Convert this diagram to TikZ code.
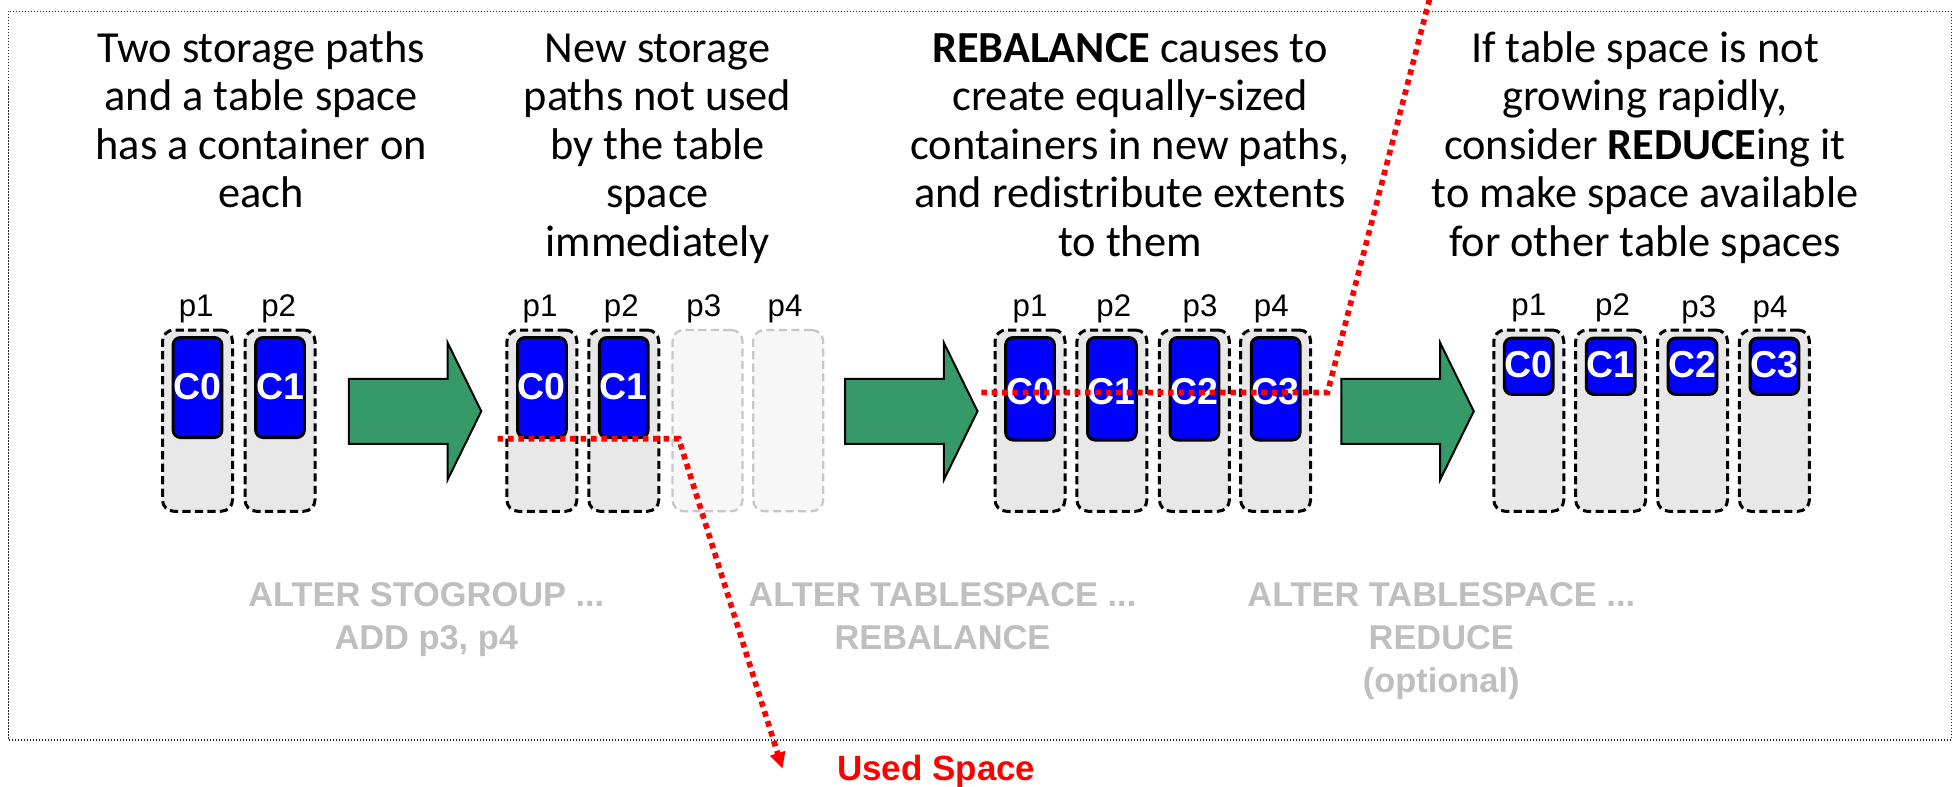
\documentclass[tikz,border=0pt]{standalone}
\usepackage{fontspec}
\setmainfont{Carlito}
\newfontfamily\arialf{Liberation Sans}
\usetikzlibrary{arrows.meta}
\definecolor{boxgray}{HTML}{E8E8E8}
\definecolor{arrgreen}{HTML}{359A68}
\definecolor{cmdgray}{HTML}{BFBFBF}
\definecolor{blueC}{HTML}{0000FF}
\begin{document}
\begin{tikzpicture}[x=1pt,y=-1pt,
  cont/.style={draw=black, line width=2.4pt, dash pattern=on 6.5pt off 3.5pt, rounded corners=9pt, fill=boxgray, minimum width=56pt, minimum height=145pt, inner sep=0pt},
  ghost/.style={cont, draw=black!22, line width=1.8pt, fill=black!3},
  cbox/.style={draw=black, line width=2.4pt, rounded corners=6pt, fill=blueC, minimum width=39pt, inner sep=0pt},
  clab/.style={text=white, font=\arialf\bfseries\fontsize{30}{30}\selectfont, inner sep=0pt},
  plab/.style={font=\arialf\fontsize{25}{25}\selectfont, anchor=base, inner sep=0pt},
  desc/.style={font=\fontsize{35.5}{38.7}\selectfont, anchor=base, inner sep=0pt},
  cmd/.style={text=cmdgray, font=\arialf\bfseries\fontsize{27.5}{34.5}\selectfont, anchor=base, inner sep=0pt},
  usedline/.style={draw=red, line width=4.5pt, dash pattern=on 4.5pt off 3.8pt},
  blockarr/.pic={\draw[fill=arrgreen, draw=black, line width=1.6pt] (0,-26) -- (79,-26) -- (79,-55) -- (106,0) -- (79,55) -- (79,26) -- (0,26) -- cycle;}
]
\useasboundingbox (0,0) rectangle (1567.2,628.8);
\fill[white] (0,0) rectangle (1567.2,628.8);
% frame
\draw[black!85, line width=1pt, dash pattern=on 1pt off 1.4pt] (7,9) rectangle (1561,592);

% descriptions
\node[desc] (d1) at (209,50) {\begin{tabular}[t]{@{}c@{}}Two storage paths\\and a table space\\has a container on\\each\end{tabular}};
\node[desc] (d2) at (526,50) {\begin{tabular}[t]{@{}c@{}}New storage\\paths not used\\by the table\\space\\immediately\end{tabular}};
\node[desc] (d3) at (904,50) {\begin{tabular}[t]{@{}c@{}}\textbf{REBALANCE} causes to\\create equally-sized\\containers in new paths,\\and redistribute extents\\to them\end{tabular}};
\node[desc] (d4) at (1316,50) {\begin{tabular}[t]{@{}c@{}}If table space is not\\growing rapidly,\\consider \textbf{REDUCE}ing it\\to make space available\\for other table spaces\end{tabular}};

% group 1
\node[cont] (a1) at (158,336.5) {};
\node[cont] (a2) at (224,336.5) {};
\node[cbox, minimum height=80pt] (ab1) at (158,310) {};
\node[cbox, minimum height=80pt] (ab2) at (224,310) {};
\node[clab] (ac1) at (158,309) {C0};
\node[clab] (ac2) at (224,309) {C1};
\node[plab] (ap1) at (157,253) {p1};
\node[plab] (ap2) at (223,253) {p2};

% group 2
\node[cont] (b1) at (433.5,336.5) {};
\node[cont] (b2) at (499,336.5) {};
\node[ghost] (b3) at (566,336.5) {};
\node[ghost] (b4) at (630.5,336.5) {};
\node[cbox, minimum height=80pt] (bb1) at (433.5,310) {};
\node[cbox, minimum height=80pt] (bb2) at (499,310) {};
\node[clab] (bc1) at (433.5,309) {C0};
\node[clab] (bc2) at (499,309) {C1};
\node[plab] (bp1) at (432,253) {p1};
\node[plab] (bp2) at (497,253) {p2};
\node[plab] (bp3) at (563,253) {p3};
\node[plab] (bp4) at (628,253) {p4};

% group 3
\node[cont] (c1) at (824,336.5) {};
\node[cont] (c2) at (889.5,336.5) {};
\node[cont] (c3) at (955.5,336.5) {};
\node[cont] (c4) at (1020.5,336.5) {};
\node[cbox, minimum height=82pt] (cb1) at (824,311) {};
\node[cbox, minimum height=82pt] (cb2) at (889.5,311) {};
\node[cbox, minimum height=82pt] (cb3) at (955.5,311) {};
\node[cbox, minimum height=82pt] (cb4) at (1020.5,311) {};
\node[clab] (cc1) at (824,313) {C0};
\node[clab] (cc2) at (889.5,313) {C1};
\node[clab] (cc3) at (955.5,313) {C2};
\node[clab] (cc4) at (1020.5,313) {C3};
\node[plab] (cp1) at (824,253) {p1};
\node[plab] (cp2) at (891,253) {p2};
\node[plab] (cp3) at (960,253) {p3};
\node[plab] (cp4) at (1017,253) {p4};

% group 4
\node[cont] (e1) at (1223,336.5) {};
\node[cont] (e2) at (1288.5,336.5) {};
\node[cont] (e3) at (1354,336.5) {};
\node[cont] (e4) at (1419.5,336.5) {};
\node[cbox, minimum height=45pt] (eb1) at (1223,293) {};
\node[cbox, minimum height=45pt] (eb2) at (1288.5,293) {};
\node[cbox, minimum height=45pt] (eb3) at (1354,293) {};
\node[cbox, minimum height=45pt] (eb4) at (1419.5,293) {};
\node[clab] (ec1) at (1223,292) {C0};
\node[clab] (ec2) at (1288.5,292) {C1};
\node[clab] (ec3) at (1354,292) {C2};
\node[clab] (ec4) at (1419.5,292) {C3};
\node[plab] (ep1) at (1223,252) {p1};
\node[plab] (ep2) at (1290,252) {p2};
\node[plab] (ep3) at (1359,254) {p3};
\node[plab] (ep4) at (1416,254) {p4};

% green arrows
\pic at (279,329) {blockarr};
\pic at (676,329) {blockarr};
\pic at (1073,329) {blockarr};

% commands
\node[cmd] (k1) at (341,485) {\begin{tabular}[t]{@{}c@{}}ALTER STOGROUP ...\\ADD p3, p4\end{tabular}};
\node[cmd] (k2) at (754,485) {\begin{tabular}[t]{@{}c@{}}ALTER TABLESPACE ...\\REBALANCE\end{tabular}};
\node[cmd] (k3) at (1153,485) {\begin{tabular}[t]{@{}c@{}}ALTER TABLESPACE ...\\REDUCE\\(optional)\end{tabular}};

% used space
\node[anchor=base, inner sep=0pt, text=red, font=\arialf\bfseries\fontsize{28}{28}\selectfont] (used) at (749,624) {Used Space};
\coordinate (u1) at (398,351);
\coordinate (u2) at (543,351);
\coordinate (u3) at (626,615);
\draw[usedline, -{Triangle[length=13pt,width=12pt]}] (u1) -- (u2) -- (u3);
\coordinate (r1) at (785,314);
\coordinate (r2) at (1062,314);
\coordinate (r3) at (1145,-6);
\draw[usedline] (r1) -- (r2) -- (r3);
\end{tikzpicture}
\end{document}
